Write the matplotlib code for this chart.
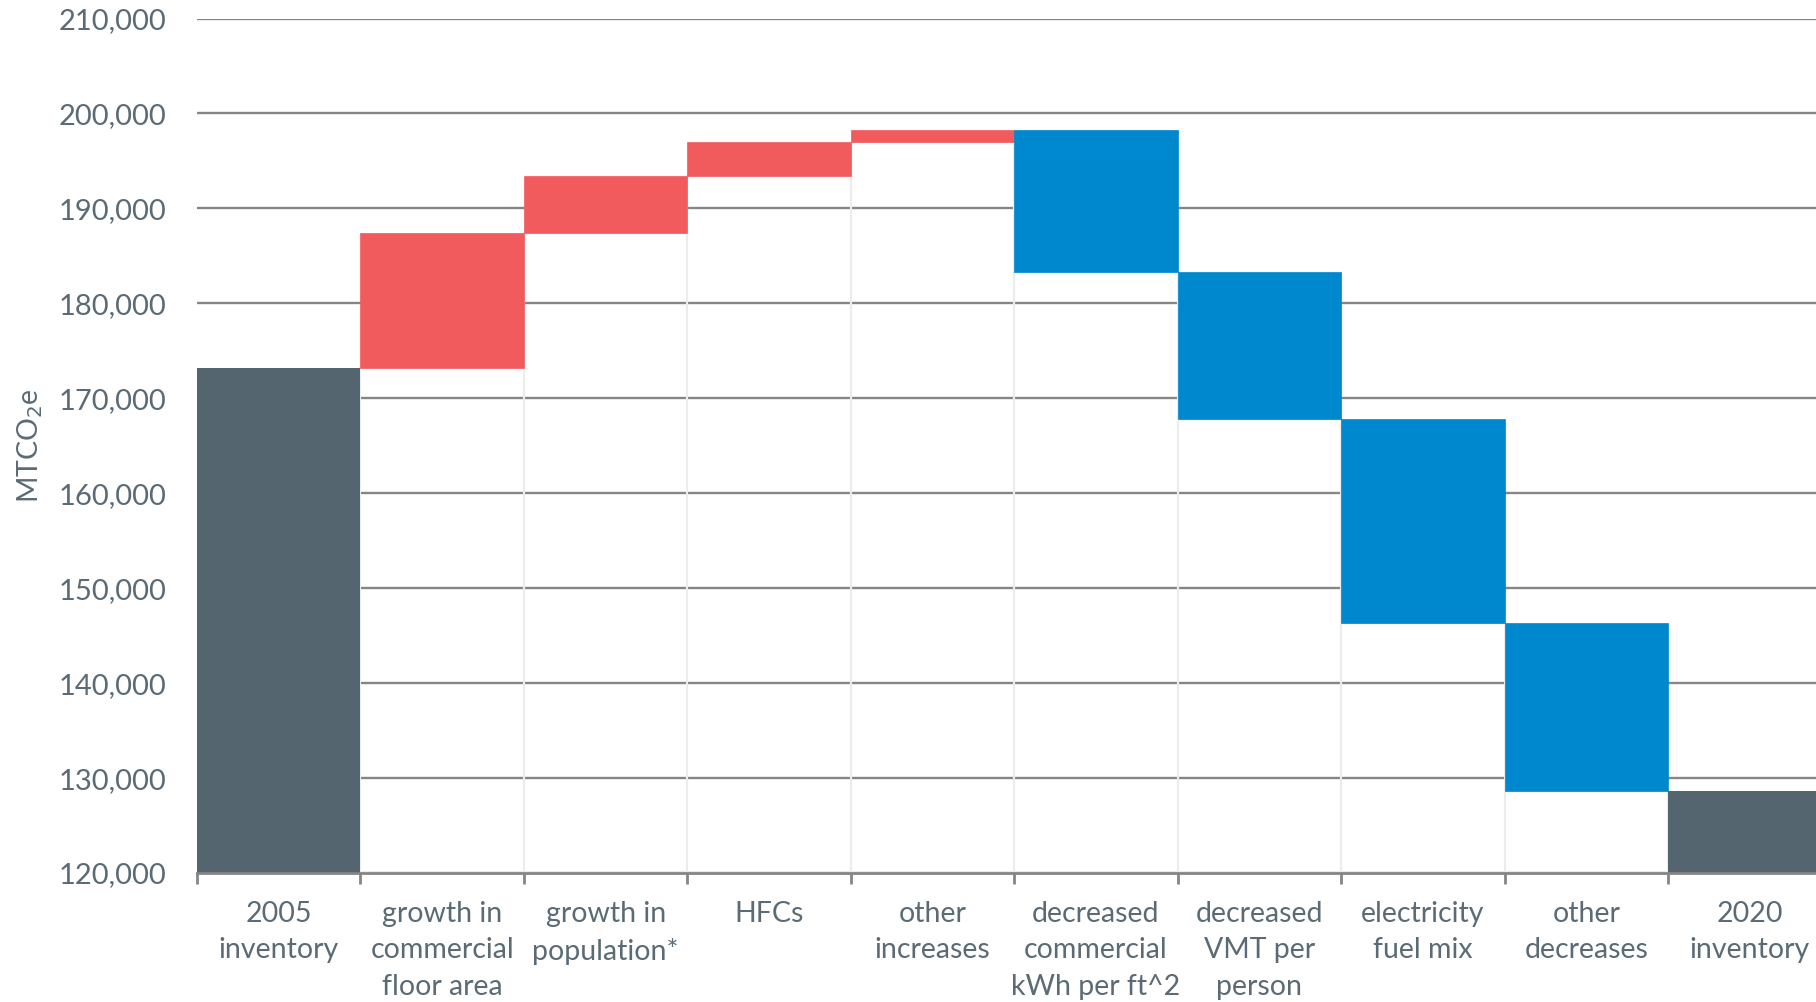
import matplotlib as mpl
from matplotlib import pyplot as plt
import numpy as np

mpl.rcParams['font.family'] = ['Lato', 'DejaVu Sans']

categories = ['2005\ninventory', 'growth in\ncommercial\nfloor area', 'growth in\npopulation*',
              'HFCs', 'other\nincreases', 'decreased\ncommercial\nkWh per ft^2',
              'decreased\nVMT per\nperson', 'electricity\nfuel mix', 'other\ndecreases',
              '2020\ninventory']
start_total = 173200
changes = [14250, 6000, 3500, 1350, -14950, -15550, -21450, -17700]

DARK = '#546570'
RED = '#F15B5E'
BLUE = '#0088CF'
TEXT = '#5B6B75'
GRID = '#858585'

# waterfall geometry
n = len(categories)
running = start_total + np.concatenate([[0], np.cumsum(changes)])
end_total = running[-1]
bases = []
heights = []
colors = []
for i, c in enumerate(changes):
    lo = min(running[i], running[i + 1])
    bases.append(lo)
    heights.append(abs(c))
    colors.append(RED if c > 0 else BLUE)

ymin, ymax = 120000, 210000
x = np.arange(n)

fig = plt.figure(figsize=(18.16, 10.02), dpi=100)
ax = fig.add_axes([0.1085, 0.1287, 0.99, 0.8528])

ax.set_ylim(ymin, ymax)
ax.set_xlim(-0.5, 10.5)
ax.set_yticks(np.arange(ymin, ymax + 1, 10000))
ax.yaxis.grid(True, color=GRID, linewidth=1.7)
ax.set_axisbelow(True)

# invisible base bars with faint outline (Excel style)
mid = x[1:-1]
ax.bar(mid, np.array(bases) - ymin, bottom=ymin, width=1.0, facecolor='none',
       edgecolor='#ECECEC', linewidth=1.5, zorder=2)
ax.bar(mid, heights, bottom=bases, width=1.0, color=colors,
       edgecolor=colors, linewidth=0.5, zorder=3)
ax.bar([x[0], x[-1]], [start_total - ymin, end_total - ymin], bottom=ymin,
       width=1.0, color=DARK, zorder=3)

for s in ['top', 'right', 'left']:
    ax.spines[s].set_visible(False)
ax.spines['bottom'].set_color(GRID)
ax.spines['bottom'].set_linewidth(2)
ax.spines['bottom'].set_zorder(4)

ax.set_xticks(x)
ax.set_xticklabels(categories, fontsize=20.5, color=TEXT, linespacing=1.5)
ax.set_xticks(np.arange(-0.5, 10.6, 1), minor=True)
ax.tick_params(axis='x', which='major', length=0, pad=20)
ax.tick_params(axis='x', which='minor', length=8, width=2, color=GRID)
ax.tick_params(axis='y', length=0, labelsize=21, labelcolor=TEXT, pad=22)
ax.yaxis.set_major_formatter(mpl.ticker.FuncFormatter(lambda v, p: f'{int(v):,}'))

ax.set_ylabel('MTCO$_2$e', fontsize=20.5, color=TEXT, labelpad=10)

fig.savefig('out.png', dpi=100)
